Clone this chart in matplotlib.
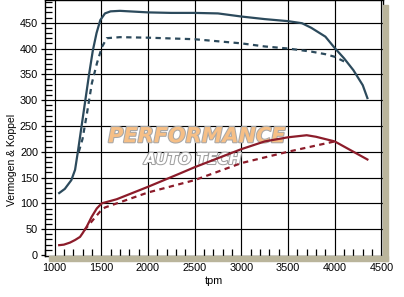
import matplotlib
matplotlib.use("Agg")
import matplotlib.pyplot as plt
import matplotlib.patheffects as pe
from matplotlib.patches import Rectangle
from matplotlib.ticker import MultipleLocator

# vermogen (pk) - getuned (solid) en standaard (dashed)
pow_rpm = [1050, 1110, 1180, 1220, 1250, 1290, 1330, 1370, 1410, 1450, 1490, 1540, 1600,
           1700, 1800, 2000, 2250, 2500, 2750, 3000, 3250, 3500, 3650, 3750, 3900, 4000,
           4100, 4200, 4300, 4350]
pow_tuned = [120, 128, 145, 165, 200, 250, 300, 350, 396, 430, 455, 468, 472,
             473, 472, 470, 469, 469, 468, 462, 457, 453, 449, 440, 423, 401,
             381, 358, 329, 304]
pow_rpm_std = [1260, 1300, 1348, 1400, 1455, 1508, 1560, 1700, 2000, 2500, 3000, 3250,
               3500, 3750, 3900, 4000, 4100]
pow_std = [200, 225, 275, 333, 372, 403, 420, 422, 421, 418, 410, 404,
           400, 394, 389, 384, 375]

# koppel - getuned en standaard
trq_rpm = [1050, 1100, 1166, 1220, 1273, 1300, 1345, 1398, 1452, 1505, 1666, 2000, 2344,
           2500, 3000, 3250, 3500, 3700, 3800, 4000, 4100, 4200, 4350]
trq_tuned = [19, 20, 24, 29, 35, 42, 55, 74, 90, 100, 108, 132, 158,
             170, 205, 220, 228, 232, 229, 220, 210, 200, 185]
trq_rpm_std = [1320, 1380, 1440, 1487, 1540, 2000, 2500, 3000, 3500, 3750, 4000]
trq_std = [48, 61, 74, 84, 92, 121, 145, 178, 200, 210, 220]

x_ticks = [1000, 1500, 2000, 2500, 3000, 3500, 4000, 4500]
y_ticks = [0, 50, 100, 150, 200, 250, 300, 350, 400, 450]

blue = "#2c4a5c"
red = "#8c1c2a"
shadow = "#bab59c"

plt.rcParams['font.family'] = ['Liberation Sans', 'DejaVu Sans']

fig = plt.figure(figsize=(4.04, 2.97), dpi=100)
ax = fig.add_axes([45 / 404, 41 / 297, 338 / 404, 256 / 297])

# drop shadow behind the plot area
fig.patches.append(Rectangle((49 / 404, 36 / 297), 339 / 404, 5 / 297,
                             transform=fig.transFigure, color=shadow, zorder=0))
fig.patches.append(Rectangle((383 / 404, 36 / 297), 5 / 404, 256 / 297,
                             transform=fig.transFigure, color=shadow, zorder=0))

ax.set_xlim(898, 4517)
ax.set_ylim(-2, 494)

for xv in x_ticks:
    ax.axvline(xv, color="black", lw=0.85, zorder=1)
for yv in y_ticks[1:]:
    ax.axhline(yv, color="black", lw=0.85, zorder=1)

# watermark
ax.text(2526, 230, "PERFORMANCE", fontsize=15, fontweight="bold", style="italic",
        color="#f6bf86", ha="center", va="center", zorder=2, family="DejaVu Sans",
        path_effects=[pe.withStroke(linewidth=1.5, foreground="#a8a8a8")])
ax.text(2480, 185, "AUTO TECH", fontsize=11, fontweight="bold", style="italic",
        color="white", ha="center", va="center", zorder=2, family="DejaVu Sans",
        path_effects=[pe.withStroke(linewidth=1.5, foreground="#a0a0a0")])

ax.plot(pow_rpm, pow_tuned, color=blue, lw=1.6, zorder=3)
ax.plot(pow_rpm_std, pow_std, color=blue, lw=1.6, ls=(0, (2.4, 2)), zorder=3)
ax.plot(trq_rpm, trq_tuned, color=red, lw=1.6, zorder=3)
ax.plot(trq_rpm_std, trq_std, color=red, lw=1.6, ls=(0, (2.4, 2)), zorder=3)

ax.set_xticks(x_ticks)
ax.set_yticks(y_ticks)
ax.xaxis.set_minor_locator(MultipleLocator(100))
ax.yaxis.set_minor_locator(MultipleLocator(10))
ax.tick_params(which="major", direction="out", length=3, width=0.9, labelsize=7.8, pad=2)
ax.tick_params(which="minor", direction="in", length=5, width=0.9)
ax.tick_params(top=False, right=False, which="both")
for s in ax.spines.values():
    s.set_linewidth(1.0)

ax.set_xlabel("tpm", fontsize=7.8, labelpad=2)
fig.text(12 / 404, 1 - 160 / 297, "Vermogen & Koppel", rotation=90, fontsize=7.5,
         ha="center", va="center")

fig.savefig("out.png", dpi=100)
